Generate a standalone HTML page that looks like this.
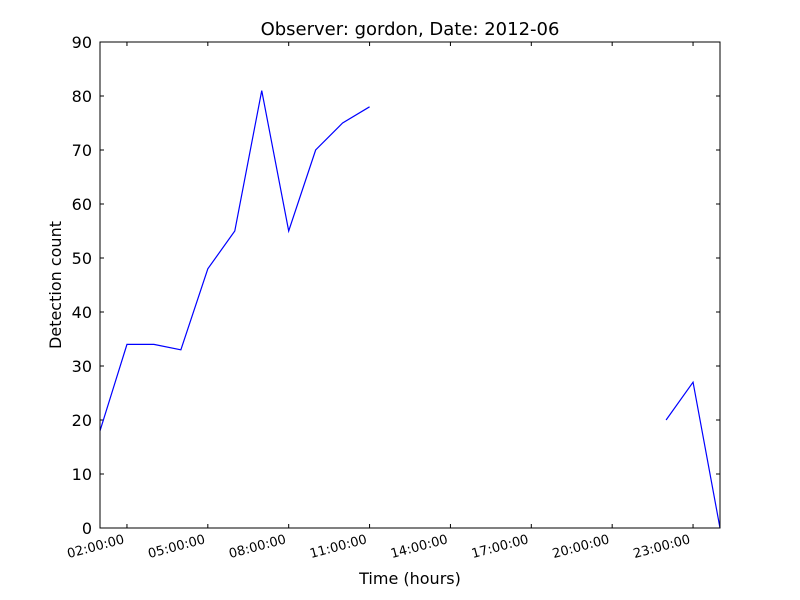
<!DOCTYPE html>
<html><head><meta charset="utf-8"><style>
html,body{margin:0;padding:0;background:#fff;}
svg{display:block;font-family:"DejaVu Sans","Liberation Sans",sans-serif;}
</style></head><body>
<svg id="chart" width="800" height="600">
<rect width="800" height="600" fill="#fff"/>
<text x="410" y="35" font-size="18" text-anchor="middle">Observer: gordon, Date: 2012-06</text>
<text x="410" y="584" font-size="16" text-anchor="middle">Time (hours)</text>
<text transform="translate(61,285) rotate(-90)" font-size="16" text-anchor="middle">Detection count</text>
<g id="ticks"></g>
<g id="series"></g>
<rect x="100" y="42" width="620" height="486" fill="none" stroke="#000" stroke-width="1"/>
</svg>
<script>
const hours = [1,2,3,4,5,6,7,8,9,10,11,null,22,23,24];
const counts = [18,34,34,33,48,55,81,55,70,75,78,null,20,27,0];
const xTickHours = [2,5,8,11,14,17,20,23];
const xTickLabels = ["02:00:00","05:00:00","08:00:00","11:00:00","14:00:00","17:00:00","20:00:00","23:00:00"];
const yTicks = [0,10,20,30,40,50,60,70,80,90];

const X0=100,X1=720,Y0=528,Y1=42,HMIN=1,HMAX=24,VMIN=0,VMAX=90;
const xs=h=>X0+(h-HMIN)/(HMAX-HMIN)*(X1-X0);
const ys=v=>Y0-(v-VMIN)/(VMAX-VMIN)*(Y0-Y1);
const NS="http://www.w3.org/2000/svg";
const tg=document.getElementById('ticks');
function mk(t,a,p){const e=document.createElementNS(NS,t);for(const k in a)e.setAttribute(k,a[k]);p.appendChild(e);return e;}
yTicks.forEach(v=>{
  const y=ys(v);
  const l=mk('path',{d:`M${X0} ${y}h4M${X1} ${y}h-4`,stroke:'#000'},tg);
  
  
  const t=mk('text',{x:X0-8,y:y+6,'font-size':16,'text-anchor':'end'},tg);
  t.textContent=v;
  
  
});
xTickHours.forEach((h,i)=>{
  const x=xs(h);
  const l=mk('path',{d:`M${x} ${Y0}v-4M${x} ${Y1}v4`,stroke:'#000'},tg);
  
  
  const t=mk('text',{transform:`translate(${x-2},${543}) rotate(-15)`,'font-size':13,'text-anchor':'end'},tg);
  t.textContent=xTickLabels[i];
  
  
});
let d='',pen=false;
hours.forEach((h,i)=>{
  if(h===null||counts[i]===null){pen=false;return;}
  d+=(pen?'L':'M')+xs(h)+' '+ys(counts[i]);pen=true;
});
const p=mk('path',{d:d,fill:'none',stroke:'#0000ff','stroke-width':1.2},document.getElementById('series'));


</script>
</body></html>
